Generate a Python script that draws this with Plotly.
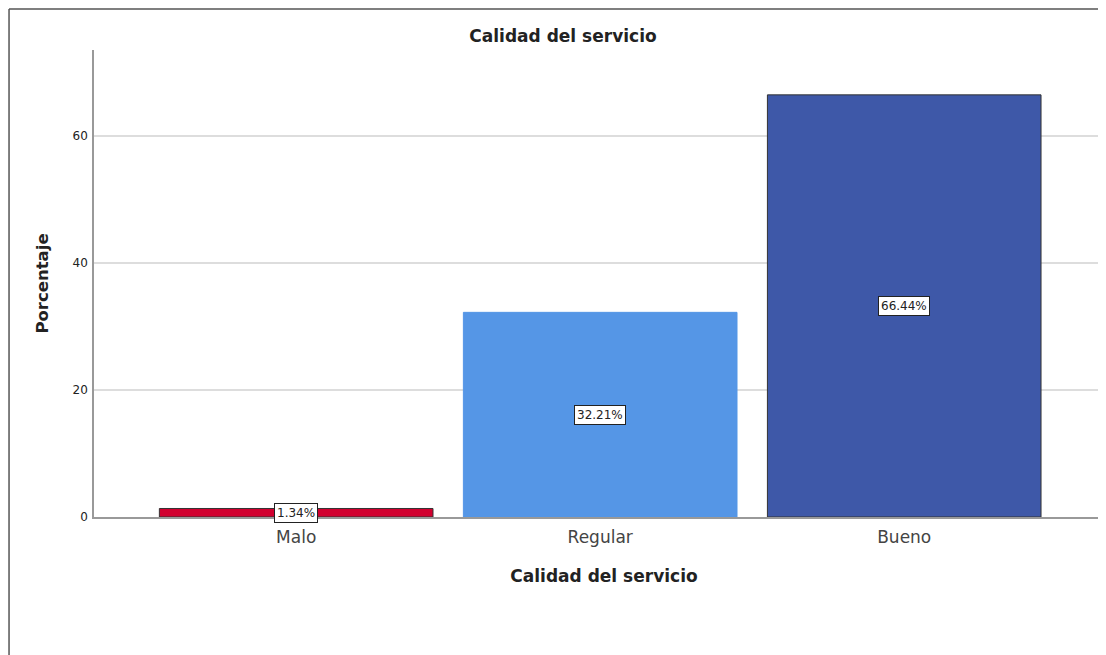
import plotly.graph_objects as go

# datos
categorias = ["Malo", "Regular", "Bueno"]
porcentajes = [1.34, 32.21, 66.44]
etiquetas = ["1.34%", "32.21%", "66.44%"]
colores = ["#D1002F", "#5596E6", "#3E58A8"]
bordes = ["#333333", "#5596E6", "#333333"]
ticks_y = [0, 20, 40, 60]

FUENTE = "DejaVu Sans, Arial, sans-serif"

fig = go.Figure()

fig.add_trace(go.Bar(
    x=categorias,
    y=porcentajes,
    marker=dict(color=colores, line=dict(color=bordes, width=1)),
    width=0.9,
    hoverinfo="x+y",
))

# etiquetas con recuadro en el centro de cada barra
for cat, val, txt in zip(categorias, porcentajes, etiquetas):
    fig.add_annotation(
        x=cat, y=val / 2, text=txt, showarrow=False,
        font=dict(family=FUENTE, size=12, color="#222222"),
        bgcolor="white", bordercolor="#222222", borderwidth=1, borderpad=2,
    )

# marco exterior (solo borde izquierdo y superior visibles)
fig.add_shape(type="line", xref="paper", yref="paper",
              x0=-0.0833, x1=-0.0833, y0=-0.35, y1=1.088,
              line=dict(color="#555555", width=1.5))
fig.add_shape(type="line", xref="paper", yref="paper",
              x0=-0.0833, x1=1.02, y0=1.088, y1=1.088,
              line=dict(color="#555555", width=1.5))

fig.update_layout(
    width=1106, height=655,
    margin=dict(l=86, r=0, t=42, b=146),
    paper_bgcolor="white",
    plot_bgcolor="white",
    showlegend=False,
    font=dict(family=FUENTE, color="#222222"),
    title=dict(
        text="<b>Calidad del servicio</b>",
        x=555 / 1106, xanchor="center",
        y=1 - 28 / 655, yanchor="middle",
        font=dict(size=17, color="#222222"),
    ),
    xaxis=dict(
        range=[-0.665, 2.69],
        showline=True, linecolor="#999999", linewidth=1.5,
        showgrid=False, ticks="",
        ticklabelstandoff=4,
        tickfont=dict(size=17, color="#444444"),
        title=dict(text="<b>Calidad del servicio</b>",
                   font=dict(size=17, color="#222222"), standoff=24),
    ),
    yaxis=dict(
        range=[0, 73.5],
        tickvals=ticks_y,
        showline=True, linecolor="#999999", linewidth=1.5,
        showgrid=True, gridcolor="#DDDDDD", gridwidth=1.5,
        zeroline=False, ticks="",
        ticklabelstandoff=2,
        tickfont=dict(size=12, color="#222222"),
        title=dict(text="<b>Porcentaje</b>",
                   font=dict(size=16.5, color="#222222"), standoff=20),
    ),
)

fig.write_html("out.html")
